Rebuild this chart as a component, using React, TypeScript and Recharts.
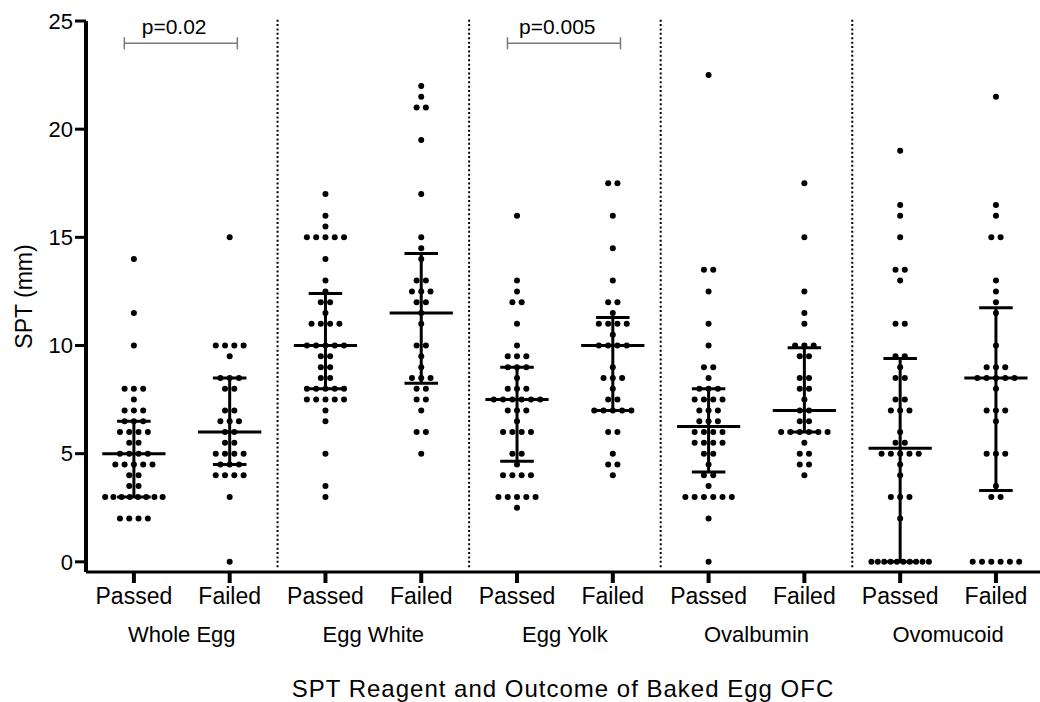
import { ScatterChart, Scatter, XAxis, YAxis, ReferenceLine, ReferenceDot } from "recharts";

const reagents = ["Whole Egg", "Egg White", "Egg Yolk", "Ovalbumin", "Ovomucoid"];
const outcomes = ["Passed", "Failed"];

// SPT wheal sizes (mm)
const wholeEggPassed = [14, 11.5, 10, 8, 8, 8, 7.5, 7, 7, 7, 6.5, 6.5, 6.5, 6, 6, 6, 6, 5.5, 5.5, 5, 5, 5, 5,
  4.5, 4.5, 4.5, 4.5, 4.5, 4, 4, 3.5, 3.5, 3, 3, 3, 3, 3, 3, 3, 3, 2, 2, 2, 2];
const wholeEggFailed = [15, 10, 10, 10, 10, 9.5, 8.5, 8.5, 8.5, 8, 8, 7, 7, 6.5, 6.5, 6.5, 6, 6, 5.5, 5.5,
  5, 5, 5, 5, 4.5, 4.5, 4.5, 4, 4, 4, 4, 3, 0];
const eggWhitePassed = [17, 16, 15.5, 15, 15, 15, 15, 15, 14, 13, 12.5, 12, 12, 11.5, 11, 11, 11, 11,
  10, 10, 10, 10, 10, 9.5, 9.5, 9, 9, 8.5, 8.5, 8, 8, 8, 8, 8, 7.5, 7.5, 7.5, 7.5, 7.5, 7, 6.5, 5, 3.5, 3];
const eggWhiteFailed = [22, 21.5, 21, 21, 19.5, 17, 15, 14.5, 14, 13, 13, 12.5, 12.5, 12.5, 12, 12, 11.5,
  11, 10, 10, 9.5, 9, 8.5, 8.5, 8.5, 8, 8, 7.5, 7.5, 7, 6, 6, 5];
const eggYolkPassed = [16, 13, 12.5, 12, 12, 11, 10, 9.5, 9.5, 9.5, 9, 9, 9, 8.5, 8, 8, 8,
  7.5, 7.5, 7.5, 7.5, 7.5, 7.5, 7, 7, 7, 6.5, 6, 6, 6, 6, 5, 5, 4.5, 4, 4, 4, 4, 3, 3, 3, 3, 3, 2.5];
const eggYolkFailed = [17.5, 17.5, 16, 14.5, 13, 12, 12, 11.5, 11, 11, 11, 11, 10.5, 10, 10, 10, 10,
  9, 8.5, 8.5, 8.5, 8, 7.5, 7.5, 7, 7, 7, 7, 7, 6, 6, 5, 4.5, 4.5, 4];
const ovalbuminPassed = [22.5, 13.5, 13.5, 12.5, 11, 10, 9, 9, 8.5, 8, 8, 8, 7.5, 7.5, 7.5, 7.5, 7, 7, 7,
  6.5, 6.5, 6.5, 6, 6, 6, 6, 5.5, 5.5, 5.5, 5.5, 5, 5, 4.5, 4, 4, 3.5, 3, 3, 3, 3, 3, 3, 2, 0];
const ovalbuminFailed = [17.5, 15, 12.5, 11.5, 11, 10, 10, 10, 9.5, 9.5, 8.5, 8.5, 8, 8, 7.5, 7, 7,
  6.5, 6.5, 6, 6, 6, 6, 6, 6, 5.5, 5, 5, 4.5, 4.5, 4];
const ovomucoidPassed = [19, 16.5, 16, 15, 13.5, 13.5, 13, 11, 11, 9.5, 9.5, 9, 8.5, 8.5, 7.5, 7.5, 7, 7, 7,
  6, 5.5, 5.5, 5, 5, 5, 5, 5, 4.5, 4, 3, 3, 3, 2, 0, 0, 0, 0, 0, 0, 0, 0, 0, 0];
const ovomucoidFailed = [21.5, 16.5, 16, 15, 15, 13, 12.5, 12, 11.5, 10, 9, 9, 9, 8.5, 8.5, 8.5, 8.5, 8.5,
  8, 7, 7, 7, 6.5, 5, 5, 5, 3.5, 3, 3, 0, 0, 0, 0, 0, 0];

const groups = [wholeEggPassed, wholeEggFailed, eggWhitePassed, eggWhiteFailed, eggYolkPassed,
  eggYolkFailed, ovalbuminPassed, ovalbuminFailed, ovomucoidPassed, ovomucoidFailed];

// median and interquartile range drawn in the figure
const medians = [5, 6, 10, 11.5, 7.5, 10, 6.25, 7, 5.25, 8.5];
const lowerQuartiles = [3, 4.5, 8, 8.25, 4.65, 7, 4.15, 6, 0, 3.3];
const upperQuartiles = [6.5, 8.5, 12.4, 14.25, 9, 11.3, 8, 9.9, 9.4, 11.75];

const comparisons = [
  { label: "p=0.02", from: 0, to: 1 },
  { label: "p=0.005", from: 4, to: 5 },
];

const yTicks = [0, 5, 10, 15, 20, 25];
const catTicks = groups.map((_, i) => i);
const reagentTicks = reagents.map((_, i) => i * 2 + 0.5);
const separators = reagents.slice(1).map((_, i) => i * 2 + 1.5);

const FONT = "'Liberation Sans', Arial, Helvetica, sans-serif";

// spread tied values sideways like a column scatter plot
function swarm(values: number[], center: number) {
  const counts = new Map<number, number>();
  values.forEach((v) => counts.set(v, (counts.get(v) ?? 0) + 1));
  const seen = new Map<number, number>();
  return values.map((v) => {
    const n = counts.get(v)!;
    const k = seen.get(v) ?? 0;
    seen.set(v, k + 1);
    const step = n > 1 ? Math.min(0.097, 0.6 / (n - 1)) : 0;
    return { x: center + (k - (n - 1) / 2) * step, y: v };
  });
}

const points = groups.flatMap((vals, i) => swarm(vals, i));
const reagentAnchors = reagentTicks.map((x) => ({ x, y: 0 }));

const DotShape = (p: any) => <circle cx={p.cx} cy={p.cy} r={3} fill="#000" />;
const NoShape = () => <g />;

const CatTick = ({ x, y, payload }: any) => (
  <text x={x} y={y} dy="0.71em" textAnchor="middle" fontSize={23} fill="#000" fontFamily={FONT}>
    {outcomes[payload.value % 2]}
  </text>
);

const ReagentTick = ({ x, y, payload }: any) => (
  <text x={x} y={y} dy="0.71em" textAnchor="middle" fontSize={22} fill="#000" fontFamily={FONT}>
    {reagents[Math.round((payload.value - 0.5) / 2)]}
  </text>
);

const line = { stroke: "#000", strokeWidth: 3 };

export default function App() {
  return (
    <div style={{ position: "absolute", left: 0, top: 0, width: 1040, height: 702, background: "#fff", fontFamily: FONT }}>
      <ScatterChart width={1040} height={702} margin={{ top: 21, right: 0, bottom: 60, left: 0 }}>
        <XAxis xAxisId="cat" type="number" dataKey="x" domain={[-0.5, 9.46]} ticks={catTicks} interval={0}
          tick={<CatTick />} tickSize={11} tickMargin={5} height={30}
          axisLine={{ stroke: "#000", strokeWidth: 3 }} tickLine={{ stroke: "#000", strokeWidth: 4 }} />
        <XAxis xAxisId="grp" type="number" dataKey="x" domain={[-0.5, 9.46]} ticks={reagentTicks} interval={0}
          tick={<ReagentTick />} tickSize={0} tickMargin={24} height={40} axisLine={false} tickLine={false}
          label={{ value: "SPT Reagent and Outcome of Baked Egg OFC", position: "bottom", offset: 38, fontSize: 24, letterSpacing: 1, fill: "#000", fontFamily: FONT }} />
        <YAxis type="number" dataKey="y" domain={[-0.47, 25]} ticks={yTicks} interval={0} width={86}
          tickSize={11} tickMargin={2} tick={{ fontSize: 22, fill: "#000", fontFamily: FONT }}
          axisLine={{ stroke: "#000", strokeWidth: 4 }} tickLine={{ stroke: "#000", strokeWidth: 3 }}
          label={{ value: "SPT (mm)", angle: -90, position: "insideLeft", offset: 24, fontSize: 23, fill: "#000", fontFamily: FONT, style: { textAnchor: "middle" } }} />

        {separators.map((sx) => (
          <ReferenceLine key={`sep${sx}`} xAxisId="cat" ifOverflow="visible"
            segment={[{ x: sx, y: -0.25 }, { x: sx, y: 25.15 }]}
            stroke="#000" strokeWidth={2} strokeDasharray="2 2.4" />
        ))}

        <Scatter xAxisId="grp" data={reagentAnchors} shape={<NoShape />} isAnimationActive={false} />
        <Scatter xAxisId="cat" data={points} shape={<DotShape />} isAnimationActive={false} />

        {groups.map((_, i) => [
          <ReferenceLine key={`iqr${i}`} xAxisId="cat" ifOverflow="visible"
            segment={[{ x: i, y: lowerQuartiles[i] }, { x: i, y: upperQuartiles[i] }]} {...line} />,
          <ReferenceLine key={`q1${i}`} xAxisId="cat" ifOverflow="visible"
            segment={[{ x: i - 0.175, y: lowerQuartiles[i] }, { x: i + 0.175, y: lowerQuartiles[i] }]} {...line} />,
          <ReferenceLine key={`q3${i}`} xAxisId="cat" ifOverflow="visible"
            segment={[{ x: i - 0.175, y: upperQuartiles[i] }, { x: i + 0.175, y: upperQuartiles[i] }]} {...line} />,
          <ReferenceLine key={`med${i}`} xAxisId="cat" ifOverflow="visible"
            segment={[{ x: i - 0.33, y: medians[i] }, { x: i + 0.33, y: medians[i] }]} {...line} />,
        ])}

        {comparisons.map((c) => [
          <ReferenceLine key={`br${c.from}`} xAxisId="cat" ifOverflow="visible"
            segment={[{ x: c.from - 0.1, y: 23.97 }, { x: c.to + 0.08, y: 23.97 }]} stroke="#7a7a7a" strokeWidth={1.5} />,
          <ReferenceLine key={`bl${c.from}`} xAxisId="cat" ifOverflow="visible"
            segment={[{ x: c.from - 0.1, y: 23.69 }, { x: c.from - 0.1, y: 24.25 }]} stroke="#7a7a7a" strokeWidth={1.5} />,
          <ReferenceLine key={`brr${c.from}`} xAxisId="cat" ifOverflow="visible"
            segment={[{ x: c.to + 0.08, y: 23.69 }, { x: c.to + 0.08, y: 24.25 }]} stroke="#7a7a7a" strokeWidth={1.5} />,
          <ReferenceDot key={`pt${c.from}`} xAxisId="cat" ifOverflow="visible" x={(c.from + c.to) / 2 - 0.08} y={24.74}
            r={0} fill="none" stroke="none"
            label={{ value: c.label, position: "center", fontSize: 21, fill: "#000", fontFamily: FONT }} />,
        ])}
      </ScatterChart>
    </div>
  );
}
